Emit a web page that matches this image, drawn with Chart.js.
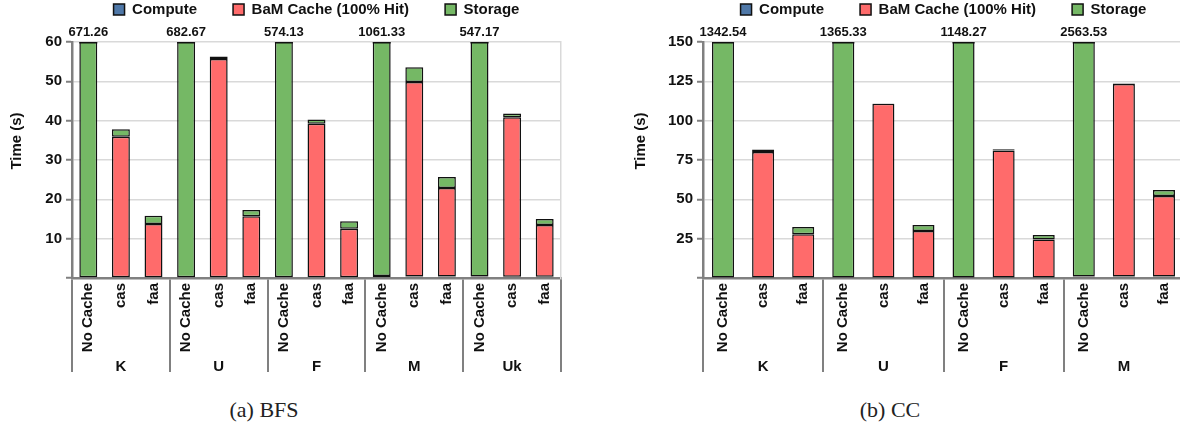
<!DOCTYPE html>
<html>
<head>
<meta charset="utf-8">
<script src="https://cdn.jsdelivr.net/npm/chart.js@4.4.1/dist/chart.umd.min.js"></script>
<style>
  body { margin: 0; background: #fff; width: 1180px; height: 436px; position: relative; overflow: hidden; }
  canvas { position: absolute; top: 0; }
  #bfs { left: 0; }
  #cc { left: 590px; }
  .caption { position: absolute; top: 397px; width: 200px; text-align: center; font: 22px "Liberation Serif", serif; color: #222; line-height: 26px; }
</style>
</head>
<body>
<canvas id="bfs" width="590" height="380"></canvas>
<canvas id="cc" width="600" height="380"></canvas>
<div class="caption" style="left:164px">(a) BFS</div>
<div class="caption" style="left:790px">(b) CC</div>
<script>
const variants = ["No Cache", "cas", "faa"];
const seriesNames = ["Compute", "BaM Cache (100% Hit)", "Storage"];
const yTitle = "Time (s)";

// BFS, seconds per graph x variant
const bfsGraphs = ["K", "U", "F", "M", "Uk"];
const bfsCompute = [0.2, 0.2, 0.2, 0.2, 0.2, 0.2, 0.2, 0.2, 0.2, 0.5, 0.4, 0.4, 0.4, 0.3, 0.3];
const bfsCache = [0, 35.7, 13.5, 0, 55.5, 15.5, 0, 39.0, 12.3, 0, 49.4, 22.5, 0, 40.6, 13.2];
const bfsStorage = [671.06, 1.9, 2.1, 682.47, 0.6, 1.6, 573.93, 1.1, 1.9, 1060.83, 3.8, 2.8, 546.77, 0.9, 1.5];
const bfsYTicks = [0, 10, 20, 30, 40, 50, 60];

// CC
const ccGraphs = ["K", "U", "F", "M"];
const ccCompute = [0.3, 0.3, 0.3, 0.3, 0.3, 0.3, 0.3, 0.3, 0.3, 1.0, 1.0, 1.0];
const ccCache = [0, 79.8, 27.5, 0, 110.4, 29.6, 0, 80.8, 24.2, 0, 122.3, 51.1];
const ccStorage = [1342.24, 1.5, 4.6, 1365.03, 0.2, 3.8, 1147.97, 0.7, 2.8, 2562.53, 0.4, 3.8];
const ccYTicks = [0, 25, 50, 75, 100, 125, 150];

const colors = ["#4f78a8", "#ff6b6b", "#75b865"];
const INK = "#111111";
const AXIS = "#808080";
const GRID = "#d9d9d9";
const FAMILY = "'Liberation Sans', Arial, sans-serif";

function boldFont(size) {
  return { family: FAMILY, size: size, weight: "bold" };
}

// bars taller than the axis get clipped, so close them off with a top edge
const capOverflow = {
  id: "capOverflow",
  afterDatasetsDraw(chart) {
    const yScale = chart.scales.y;
    const top = chart.chartArea.top;
    const sets = chart.data.datasets;
    const meta = chart.getDatasetMeta(sets.length - 1);
    const ctx = chart.ctx;
    ctx.save();
    ctx.strokeStyle = INK;
    ctx.lineWidth = 1.5;
    meta.data.forEach((bar, i) => {
      const total = sets.reduce((sum, ds) => sum + ds.data[i], 0);
      if (total <= yScale.max) return;
      ctx.beginPath();
      ctx.moveTo(bar.x - bar.width / 2, top + 0.75);
      ctx.lineTo(bar.x + bar.width / 2, top + 0.75);
      ctx.stroke();
    });
    ctx.restore();
  }
};

// y title sits a bit above the middle of the axis
const yAxisTitle = {
  id: "yAxisTitle",
  afterDraw(chart) {
    const yScale = chart.scales.y;
    const ctx = chart.ctx;
    const x = yScale.left + 13;
    const y = (yScale.top + yScale.bottom) / 2 - 19;
    ctx.save();
    ctx.translate(x, y);
    ctx.rotate(-Math.PI / 2);
    ctx.fillStyle = INK;
    ctx.font = "bold 15px " + FAMILY;
    ctx.textAlign = "center";
    ctx.textBaseline = "middle";
    ctx.fillText(yTitle, 0, 0);
    ctx.restore();
  }
};

function buildChart(canvasId, opts) {
  const labels = opts.graphs.flatMap(() => variants);
  const series = [opts.compute, opts.cache, opts.storage];
  const yMax = opts.yTicks[opts.yTicks.length - 1];
  const totals = opts.compute.map((v, i) => v + opts.cache[i] + opts.storage[i]);
  const overflowLabels = totals.map((t) => (t > yMax ? t.toFixed(2) : ""));

  const scales = {
    x: {
      type: "category",
      position: "bottom",
      stacked: true,
      offset: true,
      weight: 0,
      grid: {
        offset: true,
        drawOnChartArea: false,
        tickLength: 94,
        lineWidth: 2,
        tickColor: (c) => (c.index === undefined || c.index % 3 === 0 ? AXIS : "rgba(0,0,0,0)"),
      },
      border: { color: AXIS, width: 2.5 },
      ticks: { autoSkip: false, minRotation: 90, maxRotation: 90, padding: -89, color: INK, font: boldFont(15) },
      afterFit: (s) => { s.height = 80; },
    },
    xGroup: {
      type: "category",
      position: "bottom",
      offset: true,
      weight: 1,
      labels: opts.graphs,
      grid: { display: false, drawTicks: false },
      border: { display: false },
      ticks: { autoSkip: false, maxRotation: 0, padding: 0, color: INK, font: boldFont(15) },
      afterFit: (s) => { s.height = 17; },
    },
    xTop: {
      type: "category",
      position: "top",
      offset: true,
      labels: overflowLabels,
      grid: { display: false, drawTicks: false },
      border: { display: false },
      ticks: { autoSkip: false, maxRotation: 0, padding: 1.5, color: INK, font: boldFont(13) },
      afterFit: (s) => { s.height = 15; },
    },
    y: {
      type: "linear",
      stacked: true,
      min: 0,
      max: yMax,
      afterBuildTicks: (s) => { s.ticks = opts.yTicks.map((v) => ({ value: v })); },
      grid: { color: GRID, lineWidth: 1.5, tickColor: AXIS, tickWidth: 2, tickLength: 6 },
      border: { color: AXIS, width: 2.5 },
      ticks: { padding: 4, color: INK, font: boldFont(15), callback: (v) => (v === 0 ? "" : v) },
      afterFit: (s) => { s.width = opts.yWidth; },
    },
  };
  if (opts.rightEdge) {
    scales.yEdge = {
      type: "linear",
      position: "right",
      grid: { display: false, drawTicks: false },
      ticks: { display: false },
      border: { color: GRID, width: 1.5 },
      afterFit: (s) => { s.width = 0; },
    };
  }

  return new Chart(document.getElementById(canvasId), {
    type: "bar",
    data: {
      labels: labels,
      datasets: series.map((data, k) => ({
        label: seriesNames[k],
        data: data,
        backgroundColor: colors[k],
        borderColor: INK,
        borderWidth: 1.5,
        borderSkipped: false,
        barPercentage: 0.55,
        categoryPercentage: 1,
        clip: 0,
      })),
    },
    options: {
      responsive: false,
      animation: false,
      devicePixelRatio: 1,
      layout: { padding: { left: opts.padLeft, right: opts.padRight, top: -34, bottom: 5 } },
      plugins: {
        tooltip: { enabled: false },
        legend: {
          position: "top",
          fullSize: false,
          labels: { boxWidth: 11, boxHeight: 11, padding: 36, color: INK, font: boldFont(15) },
        },
      },
      scales: scales,
    },
    plugins: [capOverflow, yAxisTitle],
  });
}

buildChart("bfs", {
  graphs: bfsGraphs, compute: bfsCompute, cache: bfsCache, storage: bfsStorage,
  yTicks: bfsYTicks, padLeft: 4, padRight: 29, yWidth: 68, rightEdge: true,
});

buildChart("cc", {
  graphs: ccGraphs, compute: ccCompute, cache: ccCache, storage: ccStorage,
  yTicks: ccYTicks, padLeft: 37.5, padRight: 6, yWidth: 75.5, rightEdge: false,
});
</script>
</body>
</html>
